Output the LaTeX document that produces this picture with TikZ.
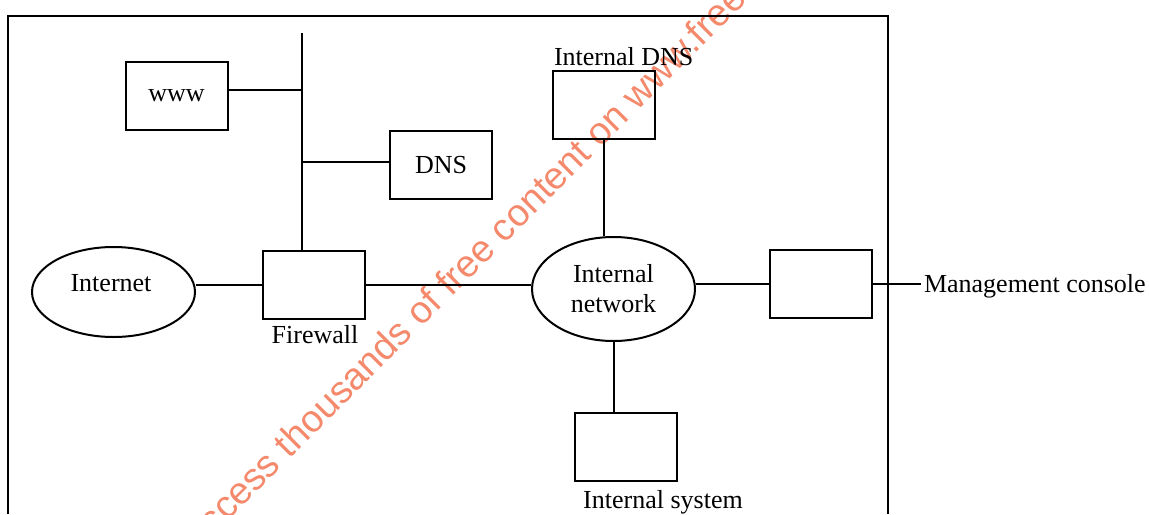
\documentclass[tikz,border=0pt]{standalone}
\usepackage{fontspec}
\setmainfont{Liberation Serif}
\newfontfamily\wmfont{Liberation Sans}
\usetikzlibrary{shapes.geometric,calc}
\definecolor{wm}{RGB}{244,137,108}
\begin{document}
\begin{tikzpicture}[x=0.5pt,y=-0.5pt,line width=1pt,
  box/.style={draw,rectangle,minimum width=51pt,minimum height=34pt,inner sep=0pt,font=\fontsize{13}{15}\selectfont},
  cloud/.style={draw,ellipse,inner sep=0pt,align=center,font=\fontsize{13}{15}\selectfont},
  lbl/.style={font=\fontsize{13}{15}\selectfont,inner sep=1pt},
  wmark/.style={text=wm,font=\wmfont\fontsize{19}{21}\selectfont,inner sep=0pt}]
\useasboundingbox (0,0) rectangle (1149,514);
% watermark
\begin{scope}
  \clip (0,0) rectangle (1149,514);
  \node[wmark,anchor=base west,rotate=45] (wmk) at (195,554) {Access thousands of free content on www.freeexampapers.com};
\end{scope}
% outer frame
\draw (8,514) -- (8,16) -- (888,16) -- (888,514);
% nodes
\node[box] (www) at (176.5,96) {www};
\node[box] (dns) at (441,165) {DNS};
\node[box] (fw) at (314,285) {};
\node[box] (idns) at (603.5,104.5) {};
\node[box] (rbox) at (821,284) {};
\node[box] (isys) at (625.5,447) {};
\node[cloud,minimum width=81.5pt,minimum height=45pt] (internet) at (113.5,292) {};
\node[lbl] (internetl) at (111,283) {Internet};
\node[cloud,minimum width=81.5pt,minimum height=52pt] (inet) at (613.5,289) {Internal\\network};
% labels
\node[lbl,anchor=base west] (idnsl) at (551,65) {Internal DNS};
\node[lbl] (fwl) at (315,335) {Firewall};
\node[lbl] (isysl) at (663,502) {Internal system};
\node[lbl,anchor=west] (mgmt) at (921,286) {Management console};
% connectors
\coordinate (bustop) at (302,33);
\coordinate (wj) at (302,90);
\coordinate (dj) at (302,162);
\draw (bustop) -- (bustop |- fw.north);
\draw (www.east |- wj) -- (wj);
\draw (dj) -- (dj -| dns.west);
\draw (internet.east |- fw.west) -- (fw.west);
\draw (fw.east) -- (fw.east -| inet.west);
\draw (inet.east |- rbox.west) -- (rbox.west);
\draw (rbox.east) -- (rbox.east -| mgmt.west);
\draw (idns.south) -- (idns.south |- inet.north);
\draw (inet.south) -- (inet.south |- isys.north);
\end{tikzpicture}
\end{document}
